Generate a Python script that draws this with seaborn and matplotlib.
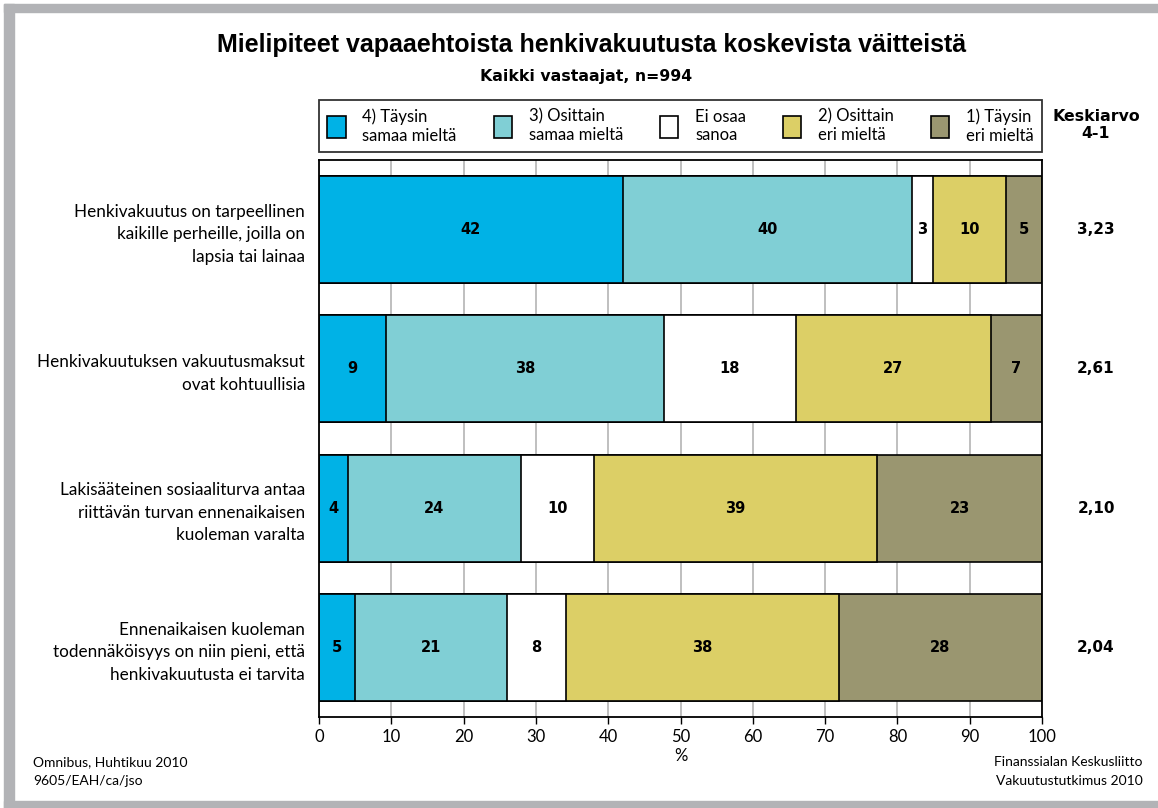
import numpy as np
import pandas as pd
import seaborn as sns
import matplotlib.pyplot as plt
from matplotlib.patches import Rectangle, Patch

# data
statements = [
    "Henkivakuutus on tarpeellinen\nkaikille perheille, joilla on\nlapsia tai lainaa",
    "Henkivakuutuksen vakuutusmaksut\novat kohtuullisia",
    "Lakisääteinen sosiaaliturva antaa\nriittävän turvan ennenaikaisen\nkuoleman varalta",
    "Ennenaikaisen kuoleman\ntodennäköisyys on niin pieni, että\nhenkivakuutusta ei tarvita",
]
categories = ["4) Täysin\nsamaa mieltä", "3) Osittain\nsamaa mieltä", "Ei osaa\nsanoa",
              "2) Osittain\neri mieltä", "1) Täysin\neri mieltä"]
taysin_samaa = [42.0, 9.3, 4.0, 5.0]
osittain_samaa = [40.0, 38.4, 23.9, 21.0]
ei_osaa = [2.9, 18.3, 10.1, 8.2]
osittain_eri = [10.1, 26.9, 39.2, 37.7]
taysin_eri = [5.0, 7.1, 22.8, 28.1]
labels = [[42, 40, 3, 10, 5], [9, 38, 18, 27, 7], [4, 24, 10, 39, 23], [5, 21, 8, 38, 28]]
keskiarvo = ["3,23", "2,61", "2,10", "2,04"]
colors = ["#00b2e6", "#80cfd5", "#ffffff", "#dccf66", "#9a9670"]

series = [taysin_samaa, osittain_samaa, ei_osaa, osittain_eri, taysin_eri]
vals = np.array(series).T  # rows: statements
cum = np.cumsum(vals, axis=1)

sns.set_style("white")
plt.rcParams['font.family'] = ['Lato', 'DejaVu Sans']
plt.rcParams['text.color'] = 'black'
plt.rcParams['xtick.color'] = 'black'
plt.rcParams['ytick.color'] = 'black'
plt.rcParams['axes.labelcolor'] = 'black'

fig = plt.figure(figsize=(11.58, 8.08), dpi=100)
ax = fig.add_axes([319 / 1158, 1 - 717 / 808, 723 / 1158, 557 / 808])

# stacked bars: draw cumulative totals from the largest down
for k in range(4, -1, -1):
    df = pd.DataFrame({"stmt": statements, "val": cum[:, k]})
    sns.barplot(data=df, x="val", y="stmt", orient="h", color=colors[k], saturation=1,
                width=0.77, edgecolor="black", linewidth=1.2, ax=ax, zorder=2)

# value labels
for i in range(4):
    left = 0
    for k in range(5):
        ax.text(left + vals[i, k] / 2, i, str(labels[i][k]), ha="center", va="center",
                fontsize=10.5, fontweight="bold", family="DejaVu Sans", zorder=5)
        left += vals[i, k]
    ax.text(1.0747, i, keskiarvo[i], transform=ax.get_yaxis_transform(), ha="center", va="center",
            fontsize=11, fontweight="bold", family="DejaVu Sans")

ax.set_xlim(0, 100)
ax.set_ylim(3.5, -0.5)
ax.set_xticks(range(0, 101, 10))
ax.grid(axis="x", color="#b4b4b4", linewidth=1.2, zorder=0)
ax.set_axisbelow(True)
for s in ax.spines.values():
    s.set_color("black")
    s.set_linewidth(1.3)
ax.tick_params(axis="x", length=5, width=1, color="black", labelsize=12, bottom=True)
ax.tick_params(axis="y", length=0, labelsize=12.3, pad=10)
ax.set_yticks(range(4))
ax.set_yticklabels(statements, linespacing=1.5)
ax.set_xlabel("%", fontsize=12, labelpad=2)
ax.set_ylabel("")

# legend box above the plot
handles = [Patch(facecolor=c, edgecolor="black", linewidth=1.2) for c in colors]
leg = ax.legend(handles, categories, ncol=5, loc="lower left", bbox_to_anchor=(0, 1.0144, 1, 0.1),
                mode="expand", borderaxespad=0, frameon=True, fancybox=False, fontsize=12,
                handlelength=1.1, handleheight=1.7, handletextpad=1.0, borderpad=0.5,
                columnspacing=1.0)
leg.get_frame().set_edgecolor("black")
leg.get_frame().set_linewidth(1.3)

fig.text(1096 / 1158, 1 - 125 / 808, "Keskiarvo\n4-1", ha="center", va="center", fontsize=11.3,
         fontweight="bold", family="DejaVu Sans", linespacing=1.2)

fig.text(592 / 1158, 1 - 45 / 808, "Mielipiteet vapaaehtoista henkivakuutusta koskevista väitteistä",
         ha="center", va="center", fontsize=18, fontweight="bold", family="Liberation Sans")
fig.text(586 / 1158, 1 - 77 / 808, "Kaikki vastaajat, n=994", ha="center", va="center",
         fontsize=11.3, fontweight="bold", family="DejaVu Sans")

fig.text(33 / 1158, 1 - 762 / 808, "Omnibus, Huhtikuu 2010", ha="left", va="center", fontsize=10)
fig.text(33 / 1158, 1 - 781 / 808, "9605/EAH/ca/jso", ha="left", va="center", fontsize=10)
fig.text(1143 / 1158, 1 - 762 / 808, "Finanssialan Keskusliitto", ha="right", va="center", fontsize=10)
fig.text(1143 / 1158, 1 - 781 / 808, "Vakuutustutkimus 2010", ha="right", va="center", fontsize=10)

# grey frame
frame = "#b2b3b6"
fig.patches.append(Rectangle((4 / 1158, 1 - 12 / 808), 1, 8 / 808, transform=fig.transFigure, color=frame))
fig.patches.append(Rectangle((4 / 1158, 0), 10 / 1158, 1 - 4 / 808, transform=fig.transFigure, color=frame))
fig.patches.append(Rectangle((4 / 1158, 0), 1, 7 / 808, transform=fig.transFigure, color=frame))

fig.savefig("out.png", dpi=100)
